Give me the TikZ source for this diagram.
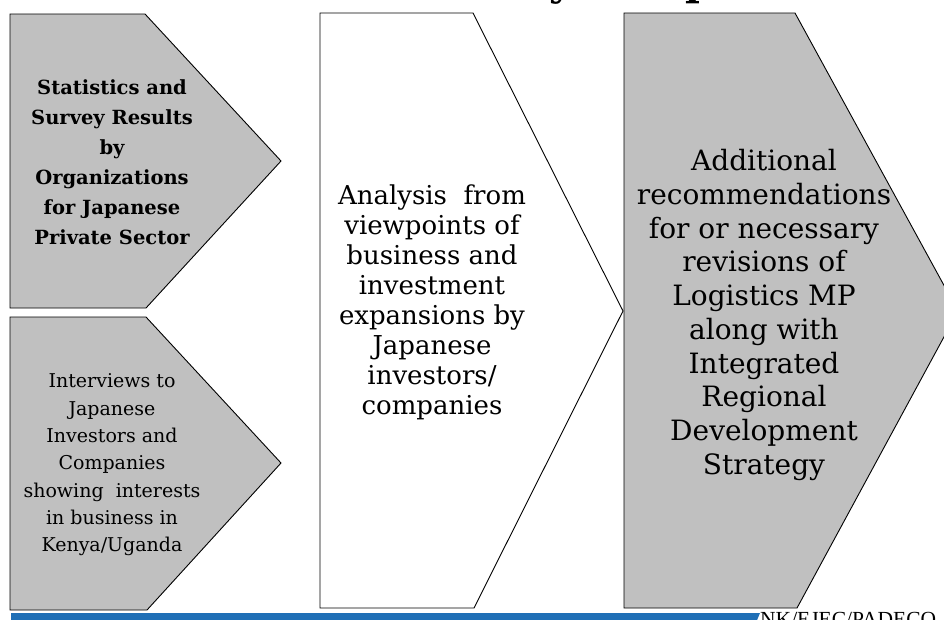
\documentclass[tikz,border=0pt]{standalone}
\usepackage{fontspec}
\setmainfont{DejaVu Serif}
\newfontfamily\timesf{Liberation Serif}
\definecolor{shapegray}{RGB}{192,192,192}
\definecolor{barblue}{RGB}{31,111,182}
\begin{document}
\begin{tikzpicture}[x=1pt,y=-1pt,
  shp/.style={draw=black,line width=0.9pt,line join=miter},
  grayshp/.style={shp,fill=shapegray},
  whiteshp/.style={shp,fill=white},
  lbl/.style={align=center,inner sep=0pt,text=black}]
\useasboundingbox (0,0) rectangle (944,619);
\clip (0,0) rectangle (944,619);
\fill[white] (0,0) rectangle (944,619);
% title fragments (cut off at top)
\node[inner sep=0pt,anchor=base,font=\bfseries\fontsize{40}{40}\selectfont] (ttly) at (561,-5) {y};
\node[inner sep=0pt,anchor=base,font=\bfseries\fontsize{40}{40}\selectfont] (ttlp) at (699,-5) {p};
% shapes
\draw[grayshp] (10,14) -- (145,14) -- (281,161) -- (146,308) -- (10,308) -- cycle;
\draw[grayshp] (10,317) -- (146,317) -- (281,463) -- (147,610) -- (10,610) -- cycle;
\draw[whiteshp] (320,13) -- (473,13) -- (623,311) -- (474,608) -- (320,608) -- cycle;
\draw[grayshp] (624,13) -- (795,13) -- (958,311) -- (797,608) -- (624,608) -- cycle;
% texts
\node[lbl,font=\bfseries\fontsize{19.5}{30}\selectfont] (t1) at (112,162)
  {Statistics and\\Survey Results\\by\\Organizations\\for Japanese\\Private Sector};
\node[lbl,font=\fontsize{19}{27.3}\selectfont] (t2) at (112,465)
  {Interviews to\\Japanese\\Investors and\\Companies\\showing\ \ interests\\in business in\\Kenya/Uganda};
\node[lbl,font=\fontsize{26}{30}\selectfont] (t3) at (432,302)
  {Analysis\ \ from\\viewpoints of\\business and\\investment\\expansions by\\Japanese\\investors/\\companies};
\node[lbl,font=\fontsize{28}{33.7}\selectfont] (t4) at (764,315)
  {Additional\\recommendations\\for or necessary\\revisions of\\Logistics MP\\along with\\Integrated\\Regional\\Development\\Strategy};
% bottom bar and credit
\fill[barblue] (11,613) -- (760,613) -- (755,625) -- (11,625) -- cycle;
\node[inner sep=0pt,anchor=base west,font=\timesf\fontsize{21.5}{21.5}\selectfont] (credit) at (760,626) {NK/EJEC/PADECO};
\end{tikzpicture}
\end{document}
